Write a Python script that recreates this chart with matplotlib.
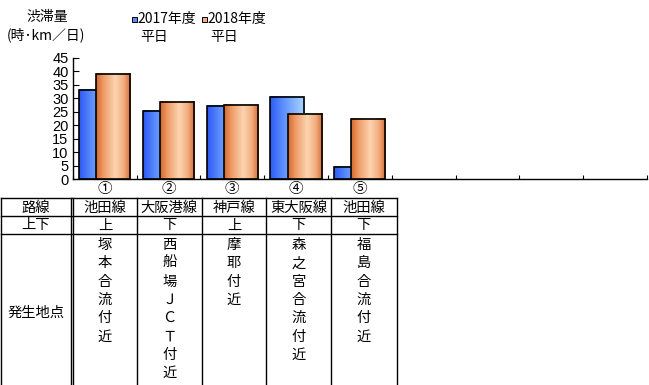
import numpy as np
import matplotlib
matplotlib.use("Agg")
import matplotlib.pyplot as plt
from matplotlib.colors import LinearSegmentedColormap

plt.rcParams['font.family'] = ['Noto Sans CJK JP', 'DejaVu Sans']

# ---- data ----
sites = ["①", "②", "③", "④", "⑤"]
jam_2017 = [33.1, 25.3, 27.1, 30.5, 4.7]
jam_2018 = [38.9, 28.6, 27.5, 24.2, 22.3]
series_names = ["2017年度\n平日", "2018年度\n平日"]
routes = ["池田線", "大阪港線", "神戸線", "東大阪線", "池田線"]
directions = ["上", "下", "上", "下", "下"]
locations = ["塚本合流付近", "西船場ＪＣＴ付近", "摩耶付近", "森之宮合流付近", "福島合流付近"]
y_ticks = [0, 5, 10, 15, 20, 25, 30, 35, 40, 45]
n_slots = 9

W, H = 649, 385
fig = plt.figure(figsize=(W / 100, H / 100), dpi=100)

# ---- chart ----
ax_l, ax_r, ax_b, ax_t = 72.7, 647.0, 179.3, 57.7
ax = fig.add_axes([ax_l / W, 1 - ax_b / H, (ax_r - ax_l) / W, (ax_b - ax_t) / H])
ax.set_xlim(-0.5, n_slots - 0.5)
ax.set_ylim(0, 45)

blue_cmap = LinearSegmentedColormap.from_list(
    "blu", [(0.0, "#2c5cf2"), (0.35, "#5a8cff"), (1.0, "#acd6ff")])
orange_cmap = LinearSegmentedColormap.from_list(
    "org", [(0.0, "#d8682c"), (0.2, "#ee9a64"), (0.55, "#fcd4b0"),
            (0.8, "#f2ae80"), (1.0, "#d26a34")])
grad = np.linspace(0, 1, 64).reshape(1, -1)

bar_w = 0.533
offset = 0.135
for i, (v17, v18) in enumerate(zip(jam_2017, jam_2018)):
    for j, (v, cmap) in enumerate([(v17, blue_cmap), (v18, orange_cmap)]):
        xc = i + (-offset if j == 0 else offset)
        z = 2 + 2 * j
        ax.imshow(grad, cmap=cmap, extent=[xc - bar_w / 2, xc + bar_w / 2, 0, v],
                  aspect='auto', zorder=z, interpolation='bilinear')
        ax.bar(xc, v, width=bar_w, facecolor='none', edgecolor='black',
               linewidth=1.2, zorder=z + 0.5)
ax.set_xlim(-0.5, n_slots - 0.5)
ax.set_ylim(0, 45)

for s in ['top', 'right']:
    ax.spines[s].set_visible(False)
for s in ['left', 'bottom']:
    ax.spines[s].set_linewidth(1.0)
ax.set_yticks(y_ticks)
ax.set_yticklabels([str(t) for t in y_ticks], family='Liberation Sans', fontsize=10.5)
ax.tick_params(axis='y', direction='in', length=4, width=0.8, pad=3)
ax.set_xticks(range(n_slots))
ax.set_xticklabels(sites + [""] * (n_slots - len(sites)), fontsize=10.5)
ax.tick_params(axis='x', which='major', length=0, pad=2)
ax.set_xticks(np.arange(n_slots + 1) - 0.5, minor=True)
ax.tick_params(axis='x', which='minor', direction='in', length=3, width=0.8)

# ---- titles and legend (pixel coordinates) ----
ov = fig.add_axes([0, 0, 1, 1], zorder=-1)
ov.set_xlim(0, W)
ov.set_ylim(H, 0)
ov.axis('off')
ov.patch.set_alpha(0)

fs = 10
ov.text(47, 16.5, "渋滞量", ha='center', va='center', fontsize=fs)
ov.text(45.5, 34.5, "(時･km／日)", ha='center', va='center', fontsize=fs)

leg_x = [131.5, 201.5]
leg_c = ["#5a8cff", "#f4b088"]
for x0, c, name in zip(leg_x, leg_c, series_names):
    first, second = name.split("\n")
    ov.add_patch(plt.Rectangle((x0, 16.5), 5, 5, facecolor=c, edgecolor='black', lw=0.7))
    ov.text(x0 + 5.5, 19, first, ha='left', va='center', fontsize=fs)
    ov.text(x0 + 8.5, 37, second, ha='left', va='center', fontsize=fs)

# ---- table ----
col_edges = [0.5, 73.3, 136.7, 202, 266, 331, 396.7]
row_lines = [198.3, 216, 234]
lc = 'black'
for y in row_lines:
    ov.plot([col_edges[0], col_edges[-1]], [y, y], color=lc, lw=1.0)
for k, x in enumerate(col_edges):
    ov.plot([x, x], [row_lines[0], H], color=lc, lw=1.0)
ov.plot([71.0, 71.0], [row_lines[0], H], color=lc, lw=1.0)

ft = 10.3
ov.text(36, 207.5, "路線", ha='center', va='center', fontsize=ft)
ov.text(36, 225.5, "上下", ha='center', va='center', fontsize=ft)
ov.text(36, 313, "発生地点", ha='center', va='center', fontsize=ft)
step = 18.3
for i in range(len(routes)):
    xc = (col_edges[i + 1] + col_edges[i + 2]) / 2
    ov.text(xc, 207.5, routes[i], ha='center', va='center', fontsize=ft)
    ov.text(xc, 225.5, directions[i], ha='center', va='center', fontsize=ft)
    for k, ch in enumerate(locations[i]):
        ov.text(xc, 245 + k * step, ch, ha='center', va='center', fontsize=ft)

fig.savefig("out.png", dpi=100)
